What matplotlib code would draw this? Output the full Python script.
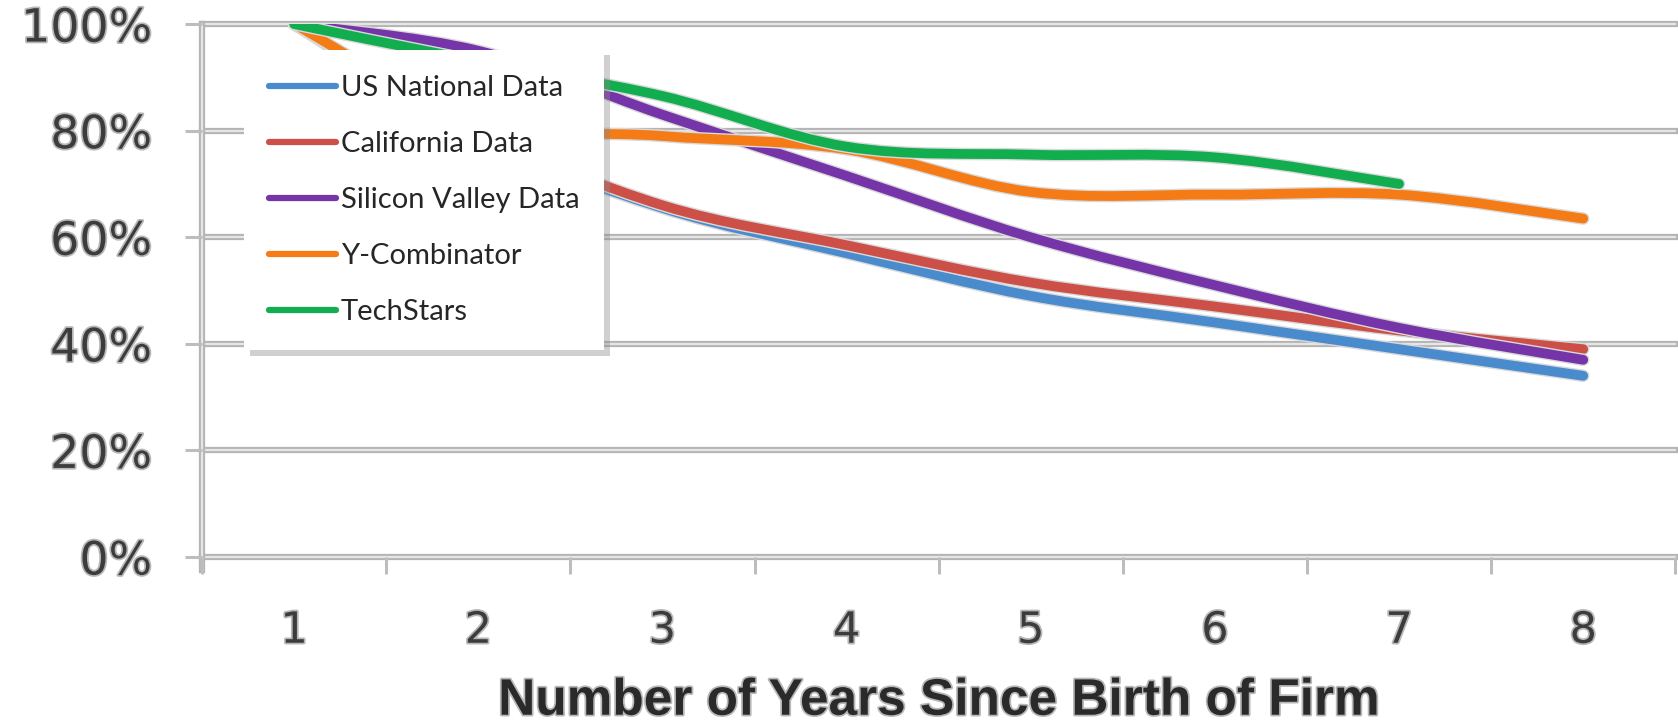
import numpy as np
import matplotlib
matplotlib.use("Agg")
import matplotlib.pyplot as plt
from matplotlib.path import Path
from matplotlib.patches import PathPatch
from matplotlib.lines import Line2D
import matplotlib.patheffects as pe

# survival rate by year since birth of firm (fraction of firms still alive)
years = [1, 2, 3, 4, 5, 6, 7, 8]
us_national = [1.00, 0.79, 0.655, 0.57, 0.49, 0.44, 0.39, 0.34]
california = [1.00, 0.80, 0.66, 0.585, 0.515, 0.47, 0.425, 0.39]
silicon_valley = [1.00, 0.95, 0.83, 0.715, 0.60, 0.51, 0.43, 0.37]
y_combinator = [1.00, 0.82, 0.79, 0.765, 0.685, 0.68, 0.68, 0.635]
techstars_years = [1, 2, 3, 4, 5, 6, 7]
techstars = [1.00, 0.93, 0.865, 0.77, 0.755, 0.75, 0.70]

series = [
    ("US National Data", years, us_national, "#4a8bcd"),
    ("California Data", years, california, "#cd5048"),
    ("Silicon Valley Data", years, silicon_valley, "#7534a8"),
    ("Y-Combinator", years, y_combinator, "#f47b16"),
    ("TechStars", techstars_years, techstars, "#12ad4f"),
]

y_ticks = [0, 0.2, 0.4, 0.6, 0.8, 1.0]
y_labels = ["0%", "20%", "40%", "60%", "80%", "100%"]


def smooth_path(xs, ys):
    # Excel style smoothed line: Catmull-Rom segments as cubic Beziers
    pts = np.column_stack([xs, ys]).astype(float)
    ext = np.vstack([pts[0], pts, pts[-1]])
    verts = [pts[0]]
    codes = [Path.MOVETO]
    for i in range(len(pts) - 1):
        p0, p1, p2, p3 = ext[i], ext[i + 1], ext[i + 2], ext[i + 3]
        verts += [p1 + (p2 - p0) / 6, p2 - (p3 - p1) / 6, p2]
        codes += [Path.CURVE4] * 3
    return Path(verts, codes)


grid_fx = [pe.Stroke(linewidth=4.5, foreground="#b4b4b4"),
           pe.Stroke(linewidth=1.6, foreground="#e6e6e6")]
text_fx = [pe.Stroke(linewidth=2.5, foreground="#b8b8b8"), pe.Normal()]

fig = plt.figure(figsize=(16.78, 7.24), dpi=100)
ax = fig.add_axes([0.1204, 0.2307, 0.878, 0.736])
ax.set_xlim(0.5, 8.5)
ax.set_ylim(0, 1.0)

for v in y_ticks:
    ax.axhline(v, color="#d0d0d0", lw=1.6, path_effects=grid_fx,
               clip_on=False, zorder=1)
ax.plot([0.5, 0.5], [-0.025, 1.0], color="#d0d0d0", lw=1.6,
        path_effects=grid_fx, clip_on=False, zorder=1)
for s in ax.spines.values():
    s.set_visible(False)

handles = []
for name, xs, ys, col in series:
    patch = PathPatch(smooth_path(xs, ys), facecolor="none", edgecolor=col,
                      lw=7, capstyle="round", joinstyle="round", zorder=3,
                      path_effects=[pe.Stroke(linewidth=9, foreground="#d9d9d9"),
                                    pe.Normal()])
    ax.add_patch(patch)
    handles.append(Line2D([], [], color=col, lw=4.5, solid_capstyle="round"))

# y axis
ax.set_yticks(y_ticks)
ax.set_yticklabels(y_labels, fontsize=33, color="#3c3c3c",
                   fontfamily="DejaVu Sans", path_effects=text_fx)
ax.tick_params(axis="y", length=12, width=2.2, color="#bdbdbd", pad=24)

# x axis: tick marks between categories, labels at category centres
ax.set_xticks(years)
ax.set_xticklabels([str(y) for y in years], fontsize=31, color="#3c3c3c",
                   path_effects=text_fx)
ax.set_xticks(np.arange(0.5, 9.0, 1.0), minor=True)
ax.tick_params(axis="x", which="major", length=0, pad=38)
ax.tick_params(axis="x", which="minor", length=12, width=2.2, color="#bdbdbd")
ax.set_xlabel("Number of Years Since Birth of Firm", fontsize=37,
              fontweight="bold", color="#2a2a2a", labelpad=18,
              fontfamily="Liberation Sans", path_effects=text_fx)

leg = ax.legend(handles, [s[0] for s in series], loc="upper left",
                bbox_to_anchor=(0.0285, 0.952), borderaxespad=0,
                handlelength=2.3, handletextpad=0.15,
                labelspacing=1.03, borderpad=0.86, frameon=True, fancybox=False,
                shadow={"color": "#8a8a8a", "alpha": 0.4, "ox": 4, "oy": -4},
                prop={"family": "Lato", "size": 21})
leg.get_frame().set_edgecolor("white")
leg.get_frame().set_linewidth(0)
for t in leg.get_texts():
    t.set_color("#262626")
leg.set_zorder(5)

fig.savefig("out.png", dpi=100, facecolor="white")
